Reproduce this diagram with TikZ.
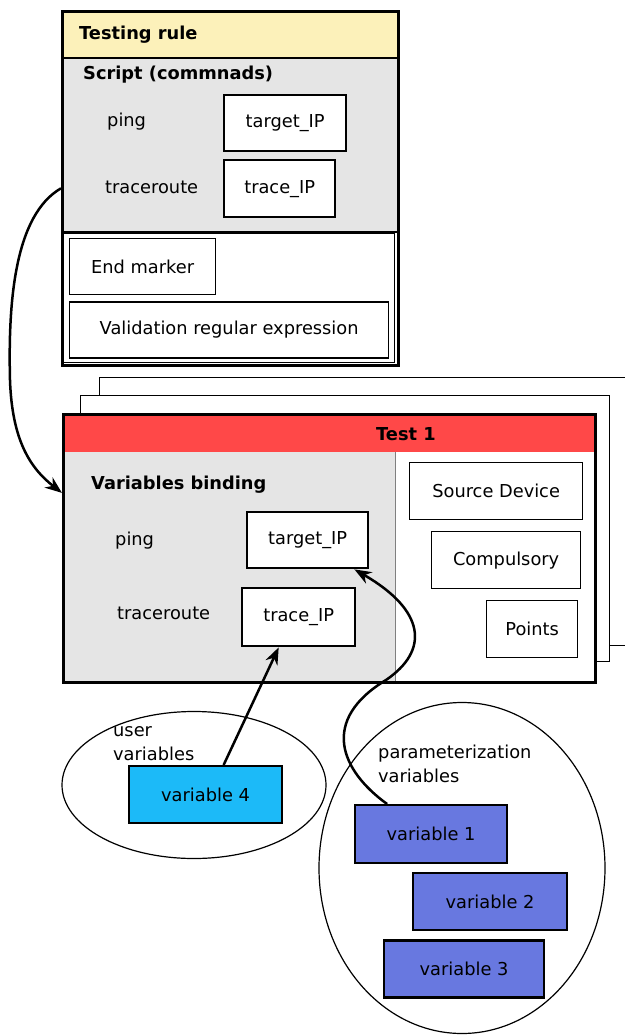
\documentclass[tikz,border=0pt]{standalone}
\usepackage{fontspec}
\setmainfont{DejaVu Sans}
\usetikzlibrary{arrows.meta,positioning,shapes.geometric}
\definecolor{ruleyellow}{RGB}{252,241,186}
\definecolor{panelgray}{RGB}{229,229,229}
\definecolor{testred}{RGB}{255,72,72}
\definecolor{uservar}{RGB}{28,186,248}
\definecolor{paramvar}{RGB}{104,120,224}
\tikzset{
  every node/.style={rectangle,inner sep=0pt,font=\fontsize{17.8}{24}\selectfont},
  frame/.style={draw,line width=2.6pt,anchor=north west},
  thickbox/.style={draw,line width=2.4pt,fill=white,anchor=north west,minimum height=56pt},
  thinbox/.style={draw,line width=1.3pt,fill=white,anchor=north west,minimum height=56pt},
  varbox/.style={draw,line width=2.2pt,anchor=north west,minimum height=57pt},
  group/.style={draw,ellipse,line width=1.2pt},
  lbl/.style={anchor=mid west},
  hd/.style={lbl,font=\fontsize{17.8}{24}\selectfont\bfseries},
  link/.style={->,line width=2.5pt}
}
\begin{document}
\begin{tikzpicture}[x=1pt,y=-1pt,>={Stealth[length=17pt,width=13pt]}]
  \useasboundingbox (0,0) rectangle (624,1036);

  \fill[ruleyellow] (61,10) rectangle (397,58);
  \fill[panelgray] (61,58) rectangle (397,232);
  \draw[line width=1.3pt] (61,58) -- (397,58) (61,232) -- (397,232);
  \draw[line width=1pt] (63.5,233) rectangle (394.5,362);
  \node[frame,minimum width=336pt,minimum height=354pt] (rule) at (61,10) {};
  \node[hd] (rulelbl) at (79,37) {Testing rule};
  \node[hd] (scriptlbl) at (83,77) {Script (commnads)};
  \node[lbl] (ping1) at (107,124) {ping};
  \node[thickbox,minimum width=122pt] (target1) at (223,94) {target\_IP};
  \node[lbl] (trace1) at (105,191) {traceroute};
  \node[thickbox,minimum width=111pt,minimum height=57pt] (traceip1) at (223,159) {trace\_IP};
  \node[thinbox,minimum width=146pt] (endmk) at (69,238) {End marker};
  \node[thinbox,minimum width=319pt,below=6pt of endmk.south west,anchor=north west]
    (valid) {Validation regular expression};

  \node[thinbox,minimum width=540pt,minimum height=268pt] (page3) at (99,377) {};
  \node[thinbox,minimum width=529pt,minimum height=266pt] (page2) at (80,395) {};
  \fill[white] (62,413) rectangle (594,681);
  \fill[testred] (62,413) rectangle (594,452);
  \fill[panelgray] (62,452) rectangle (395,681);
  \draw[gray,line width=0.8pt] (395,452) -- (395,681);
  \node[frame,minimum width=532pt,minimum height=268pt] (test) at (62,413) {};
  \node[hd] (testlbl) at (376,438) {Test 1};
  \node[hd] (bindlbl) at (91,487) {Variables binding};
  \node[lbl] (ping2) at (115,543) {ping};
  \node[thickbox,minimum width=121pt] (target2) at (246,511) {target\_IP};
  \node[lbl] (trace2) at (117,617) {traceroute};
  \node[thickbox,minimum width=113pt,minimum height=58pt] (traceip2) at (241,587) {trace\_IP};
  \node[thinbox,minimum width=173pt,minimum height=57pt] (srcdev) at (409,462) {Source Device};
  \node[thinbox,minimum width=149pt,minimum height=57pt] (compul) at (431,531) {Compulsory};
  \node[thinbox,minimum width=91pt,minimum height=57pt] (points) at (486,600) {Points};

  \node[group,minimum width=264pt,minimum height=147pt] (usergrp) at (194,785) {};
  \node[anchor=west,align=left] (userlbl) at (113,744) {user\\variables};
  \node[varbox,fill=uservar,minimum width=153pt] (var4) at (128,765) {variable 4};

  \node[group,minimum width=286pt,minimum height=331pt] (paramgrp) at (462,868) {};
  \node[anchor=west,align=left] (paramlbl) at (378,764) {parameterization\\variables};
  \node[varbox,fill=paramvar,minimum width=152pt,minimum height=58pt] (var1) at (354,804) {variable 1};
  \node[varbox,fill=paramvar,minimum width=154pt,below right=8pt and 58pt of var1.south west,anchor=north west]
    (var2) {variable 2};
  \node[varbox,fill=paramvar,minimum width=160pt,below right=8pt and -29pt of var2.south west,anchor=north west]
    (var3) {variable 3};

  \draw[link] (rule.west) .. controls (15,215) and (8,300) .. (10,380)
    .. controls (12,440) and (30,468) .. ([yshift=-8pt]test.west |- bindlbl.west);
  \draw[link] ([xshift=18pt]var4.north) -- ([xshift=-20pt]traceip2.south);
  \draw[link] ([xshift=-44pt]var1.north) .. controls (340,770) and (320,720) .. (386,680)
    .. controls (430,650) and (425,610) .. ([xshift=-15pt]target2.south east);
\end{tikzpicture}
\end{document}
